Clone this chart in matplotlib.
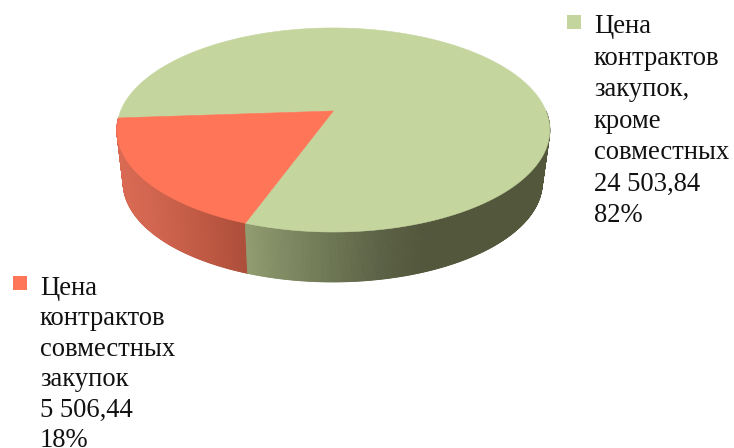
import numpy as np
import matplotlib
matplotlib.use("Agg")
import matplotlib.pyplot as plt
from matplotlib.patches import Polygon, Rectangle

categories = ["Цена\nконтрактов\nсовместных\nзакупок", "Цена\nконтрактов\nзакупок,\nкроме\nсовместных"]
values = [5506.44, 24503.84]
value_labels = ["5 506,44", "24 503,84"]
percent_labels = ["18%", "82%"]
top_colors = ["#FF7558", "#C5D59E"]

W, H = 734, 448
fig = plt.figure(figsize=(W / 100, H / 100), dpi=100)
ax = fig.add_axes([0, 0, 1, 1])
ax.set_xlim(0, W)
ax.set_ylim(H, 0)
ax.axis("off")

K = 0.186
CX = 333.3
START = 184.0


def ring(deg, a, b, y0, cx=CX):
    t = np.radians(deg)
    u, v = np.cos(t), np.sin(t)
    w = 1 + K * v
    return cx + a * u / w, y0 - b * v / w


def top(deg):
    return ring(deg, 212.7, 98.5, 111.0)


def low(deg):
    return ring(deg, 205.9, 96.0, 164.0, CX - 0.6)


fractions = np.array(values) / sum(values)
sweep = fractions * 360
edges = START + np.concatenate([[0], np.cumsum(sweep)])

# side shading stops: pixel x -> rgb
red_x = [117, 150, 200, 247]
red_c = np.array([[218, 106, 84], [210, 102, 80], [192, 90, 68], [172, 78, 58]])
grn_x = [247, 280, 330, 380, 425, 550]
grn_c = np.array([[146, 156, 112], [130, 140, 100], [110, 119, 84], [92, 98, 70], [83, 87, 60], [83, 87, 60]])


def shade(x, xs, cs):
    return tuple(np.interp(x, xs, cs[:, i]) / 255 for i in range(3))


def side(a0, a1, xs, cs):
    starts = np.arange(a0, a1, 0.25)
    for d0 in starts:
        d1 = min(d0 + 0.25, a1)
        tx0, ty0 = top(d0)
        tx1, ty1 = top(d1)
        lx0, ly0 = low(d0)
        lx1, ly1 = low(d1)
        col = shade((tx0 + tx1) / 2, xs, cs)
        ax.add_patch(Polygon([(tx0, ty0), (tx1, ty1), (lx1, ly1), (lx0, ly0)],
                             closed=True, fc=col, ec=col, lw=0.6, zorder=2))


side(edges[0], edges[1], red_x, red_c)
side(edges[1], 360.0, grn_x, grn_c)

apex = (CX, 111.0)
for i in range(2):
    angs = np.linspace(edges[i], edges[i + 1], 300)
    xs, ys = top(angs)
    pts = [apex] + list(zip(xs, ys))
    ax.add_patch(Polygon(pts, closed=True, fc=top_colors[i], ec=top_colors[i], lw=0.4, zorder=3 + (1 - i)))

font = dict(family=["Liberation Serif"], fontsize=19.2, color="#111111", va="top", ha="left")
label_pos = [(40, 276.0), (594, 14.0)]
line_gaps = [1.285, 1.345]
swatch_pos = [(13, 276), (567, 15)]
for i in range(2):
    ax.add_patch(Rectangle(swatch_pos[i], 14, 14, fc=top_colors[i], ec="none", zorder=5))
    ax.text(*label_pos[i], f"{categories[i]}\n{value_labels[i]}\n{percent_labels[i]}",
            linespacing=line_gaps[i], **font)

fig.savefig("out.png", dpi=100, facecolor="white")
